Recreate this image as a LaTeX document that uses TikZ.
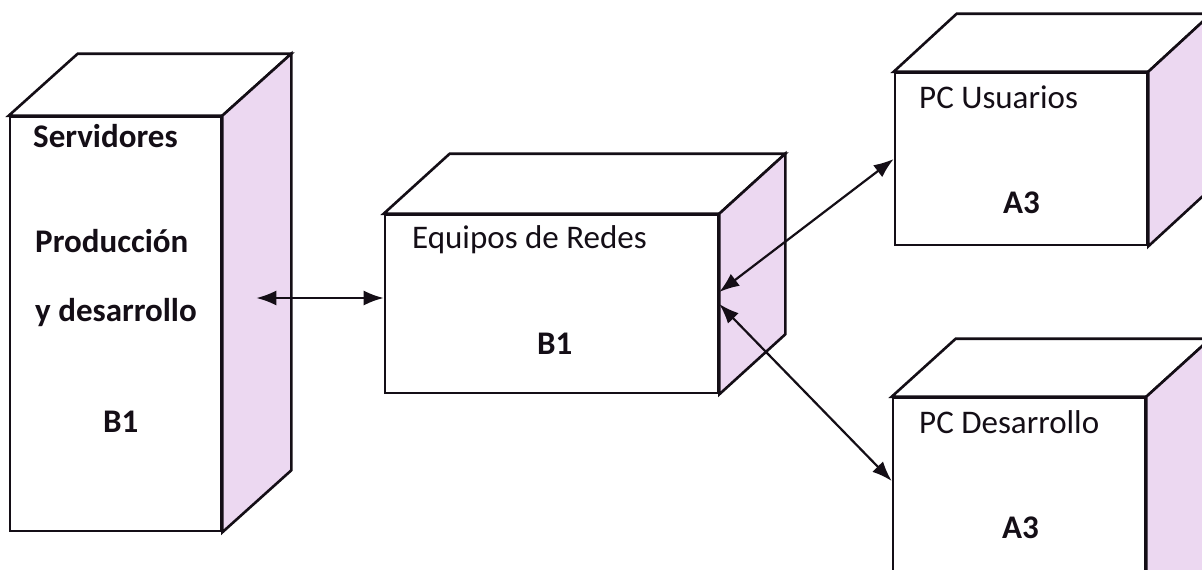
\documentclass[tikz,border=0pt]{standalone}
\usepackage{fontspec}
\setmainfont{Carlito}
\usetikzlibrary{arrows.meta,calc}

\definecolor{sideface}{RGB}{236,216,241}
\definecolor{ink}{RGB}{20,14,22}

\tikzset{
  front/.style={draw=ink, line width=2.6pt, fill=white, rectangle, inner sep=0pt, line join=miter},
  face/.style={draw=ink, line width=2.6pt, line join=miter},
  lbl/.style={anchor=base west, inner sep=0pt, text=ink, font=\fontsize{33}{40}\selectfont},
  lblb/.style={lbl, font=\fontsize{33}{40}\selectfont\bfseries},
  tip/.style={Latex[length=20pt,width=15pt]},
  conn/.style={draw=ink, line width=2.2pt, {Latex[length=20pt,width=15pt]}-{Latex[length=20pt,width=15pt]}}
}

% Top and side faces of a node cube, drawn behind-right of its front face
\newcommand\cubefaces[3]{%
  \filldraw[face, fill=white] (#1.north west) -- ++(#2,-#3)
     -- ($(#1.north east)+(#2,-#3)$) -- (#1.north east) -- cycle;
  \filldraw[face, fill=sideface] (#1.north east) -- ++(#2,-#3)
     -- ($(#1.south east)+(#2,-#3)$) -- (#1.south east) -- cycle;
}

\begin{document}
\begin{tikzpicture}[x=1pt, y=-1pt]
  \clip (0,0) rectangle (1202,570);
  \fill[white] (0,0) rectangle (1202,570);

  % front faces
  \node[front, minimum width=211pt, minimum height=414pt] (srv) at (115.5,324) {};
  \node[front, minimum width=333pt, minimum height=178pt] (net) at (551.5,304) {};
  \node[front, minimum width=252pt, minimum height=172pt] (pcu) at (1021,159) {};
  \node[front, minimum width=252pt, minimum height=224pt] (pcd) at (1019,510) {};

  \cubefaces{srv}{69}{62}
  \cubefaces{net}{66}{60}
  \cubefaces{pcu}{63}{58}
  \cubefaces{pcd}{64}{58}

  % labels
  \node[lblb] (srv-t1) at (33,147) {Servidores};
  \node[lblb] (srv-t2) at (35,252) {Producción};
  \node[lblb] (srv-t3) at (35,321) {y desarrollo};
  \node[lblb] (srv-t4) at (103,432) {B1};

  \node[lbl]  (net-t1) at (412,248) {Equipos de Redes};
  \node[lblb] (net-t2) at (537,354) {B1};

  \node[lbl]  (pcu-t1) at (919,108) {PC Usuarios};
  \node[lblb] (pcu-t2) at (1003,213) {A3};

  \node[lbl]  (pcd-t1) at (919,433) {PC Desarrollo};
  \node[lblb] (pcd-t2) at (1002,538) {A3};

  % connectors
  \coordinate (srv-port) at ($(srv.east)+(34,-26)$);
  \draw[conn] (srv-port) -- (srv-port -| net.west);
  \draw[conn] ([yshift=12pt]net.east) -- (pcu.west);
  \draw[conn] (net.east) -- ([yshift=29pt]pcd.west);
\end{tikzpicture}
\end{document}
